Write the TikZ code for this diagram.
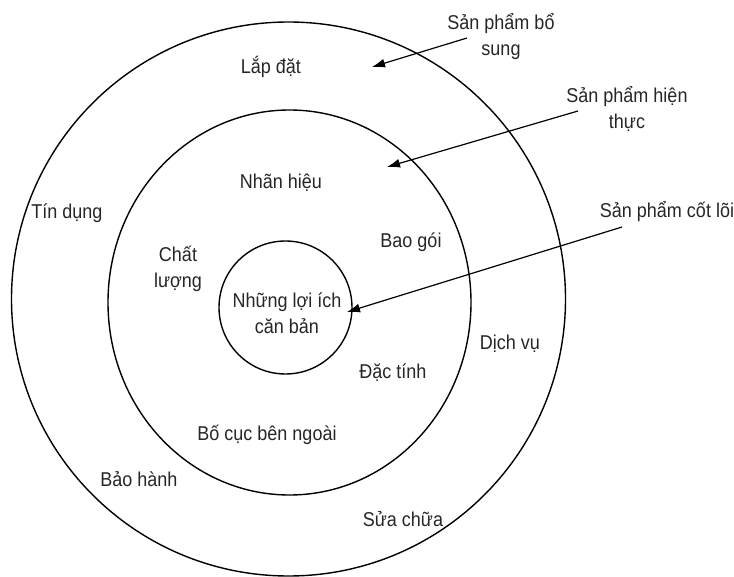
\documentclass[tikz,border=0pt]{standalone}
\usepackage{fontspec}
\setmainfont{Liberation Sans}[FakeStretch=0.9]
\usetikzlibrary{arrows.meta,shapes.geometric}
\begin{document}
\begin{tikzpicture}[x=1pt,y=-1pt,
  ring/.style={draw=black,line width=1.4pt,inner sep=0pt},
  lbl/.style={font=\fontsize{20}{26}\selectfont,text=black!85,align=center,inner sep=0pt},
  pointer/.style={draw=black,line width=1.2pt,-{Latex[length=13pt,width=9pt]}}]
\useasboundingbox (0,0) rectangle (734,577);
% rings
\node[ring,circle,minimum size=554pt] (outer) at (288.5,299) {};
\node[ring,ellipse,minimum width=363pt,minimum height=385pt] (middle) at (289.5,302.5) {};
\node[ring,circle,minimum size=133pt] (inner) at (285.5,307.5) {};
% labels
\node[lbl] (lapdat) at (271,67) {Lắp đặt};
\node[lbl] (nhanhieu) at (281,183) {Nhãn hiệu};
\node[lbl] (tindung) at (67,213) {Tín dụng};
\node[lbl] (baogoi) at (411,242) {Bao gói};
\node[lbl] (chatluong) at (178,269) {Chất\\lượng};
\node[lbl] (loiich) at (287,313) {Những lợi ích\\căn bản};
\node[lbl] (dichvu) at (510,344) {Dịch vụ};
\node[lbl] (dactinh) at (393,373) {Đặc tính};
\node[lbl] (bocuc) at (267,435) {Bố cục bên ngoài};
\node[lbl] (baohanh) at (139,479) {Bảo hành};
\node[lbl] (suachua) at (403,519) {Sửa chữa};
\node[lbl] (bosung) at (501,37) {Sản phẩm bổ\\sung};
\node[lbl] (hienthuc) at (627,109) {Sản phẩm hiện\\thực};
\node[lbl] (cotloi) at (667,212) {Sản phẩm cốt lõi};
% arrow ends
\coordinate (s1) at (467,38);
\coordinate (t1) at (372,67);
\coordinate (s2) at (578,111);
\coordinate (t2) at (387,167);
\coordinate (s3) at (622,227);
\coordinate (t3) at (347,312);
\draw[pointer] (s1) -- (t1);
\draw[pointer] (s2) -- (t2);
\draw[pointer] (s3) -- (t3);
\end{tikzpicture}
\end{document}
